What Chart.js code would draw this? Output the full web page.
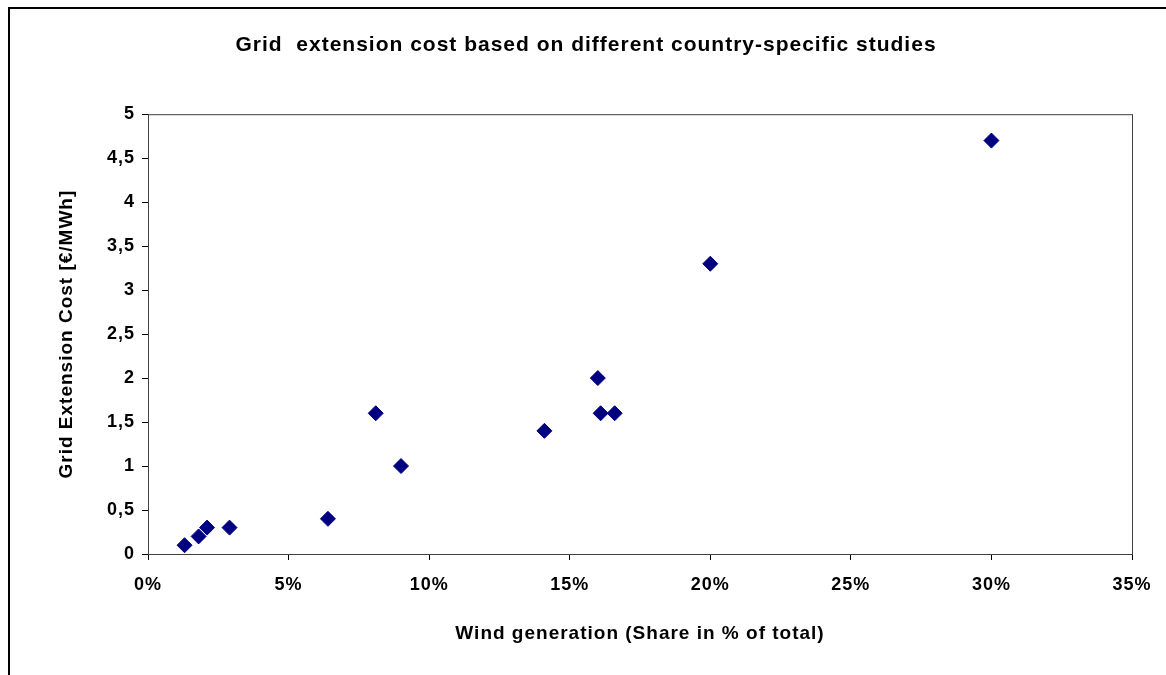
<!DOCTYPE html>
<html>
<head>
<meta charset="utf-8">
<script src="https://cdn.jsdelivr.net/npm/chart.js@4.4.1/dist/chart.umd.min.js"></script>
<style>
  html, body { margin: 0; padding: 0; background: #fff; overflow: hidden; }
  #frame {
    position: absolute; left: 8px; top: 7px;
    width: 1200px; height: 720px;
    border: 2px solid #000; box-sizing: border-box;
  }
  #chart { position: absolute; left: 0; top: 0; }
</style>
</head>
<body>
<div id="frame"></div>
<canvas id="chart" width="1166" height="675"></canvas>
<script>
// Доля ветровой генерации (%) и стоимость расширения сети (€/MWh)
const windShare = [1.3, 1.8, 2.1, 2.9, 6.4, 8.1, 9.0, 14.1, 16.0, 16.1, 16.6, 20.0, 30.0];
const gridCost = [0.1, 0.2, 0.3, 0.3, 0.4, 1.6, 1.0, 1.4, 2.0, 1.6, 1.6, 3.3, 4.7];

const xTickLabels = ['0%', '5%', '10%', '15%', '20%', '25%', '30%', '35%'];
const yTickLabels = ['0', '0,5', '1', '1,5', '2', '2,5', '3', '3,5', '4', '4,5', '5'];

const points = windShare.map((x, i) => ({ x, y: gridCost[i] }));

const FONT = 'Liberation Sans, Arial, sans-serif';
const NAVY = '#000080';

// Шрифт в оригинале чуть шире — немного разрежаем буквы
const wideText = {
  id: 'wideText',
  beforeUpdate(chart) { chart.ctx.letterSpacing = '1px'; },
  beforeDraw(chart) { chart.ctx.letterSpacing = '1px'; },
};

// Рамка области построения (как в Excel)
const plotFrame = {
  id: 'plotFrame',
  beforeDatasetsDraw(chart) {
    const { ctx, chartArea: a } = chart;
    ctx.save();
    ctx.strokeStyle = '#404040';
    ctx.lineWidth = 1;
    ctx.strokeRect(a.left + 0.5, a.top + 0.5, a.right - a.left, a.bottom - a.top);
    ctx.restore();
  },
};

// eslint-disable-next-line no-undef
new Chart(document.getElementById('chart'), {
  type: 'scatter',
  data: {
    datasets: [
      {
        data: points,
        pointStyle: 'rectRot',
        pointRadius: 7.5,
        pointHoverRadius: 7.5,
        backgroundColor: NAVY,
        borderColor: NAVY,
        borderWidth: 1,
      },
    ],
  },
  options: {
    responsive: false,
    animation: false,
    layout: { padding: { left: 40, right: 34, top: 0, bottom: 0 } },
    plugins: {
      legend: { display: false },
      tooltip: { enabled: false },
      title: {
        display: true,
        text: 'Grid  extension cost based on different country-specific studies',
        color: '#000',
        font: { family: FONT, size: 21, weight: 'bold' },
        padding: { top: 33, bottom: 56 },
      },
    },
    scales: {
      x: {
        type: 'linear',
        min: 0,
        max: 35,
        afterFit: (scale) => { scale.height = 121; },
        border: { display: true, color: '#000', width: 1 },
        grid: { drawOnChartArea: false, drawTicks: true, tickLength: 6, color: '#000' },
        ticks: {
          stepSize: 5,
          padding: 14,
          maxRotation: 0,
          color: '#000',
          font: { family: FONT, size: 18, weight: 'bold' },
          callback: (v, i) => xTickLabels[i],
        },
        title: {
          display: true,
          text: 'Wind generation (Share in % of total)',
          color: '#000',
          font: { family: FONT, size: 19, weight: 'bold' },
          padding: { top: 0, bottom: 30 },
        },
      },
      y: {
        min: 0,
        max: 5,
        afterFit: (scale) => { scale.width = 108; },
        border: { display: true, color: '#000', width: 1 },
        grid: { drawOnChartArea: false, drawTicks: true, tickLength: 6, color: '#000' },
        ticks: {
          stepSize: 0.5,
          padding: 7,
          color: '#000',
          font: { family: FONT, size: 18, weight: 'bold' },
          callback: (v, i) => yTickLabels[i],
        },
        title: {
          display: true,
          text: 'Grid Extension Cost [€/MWh]',
          color: '#000',
          font: { family: FONT, size: 19, weight: 'bold' },
          padding: { top: 15, bottom: 0 },
        },
      },
    },
  },
  plugins: [wideText, plotFrame],
});
</script>
</body>
</html>
